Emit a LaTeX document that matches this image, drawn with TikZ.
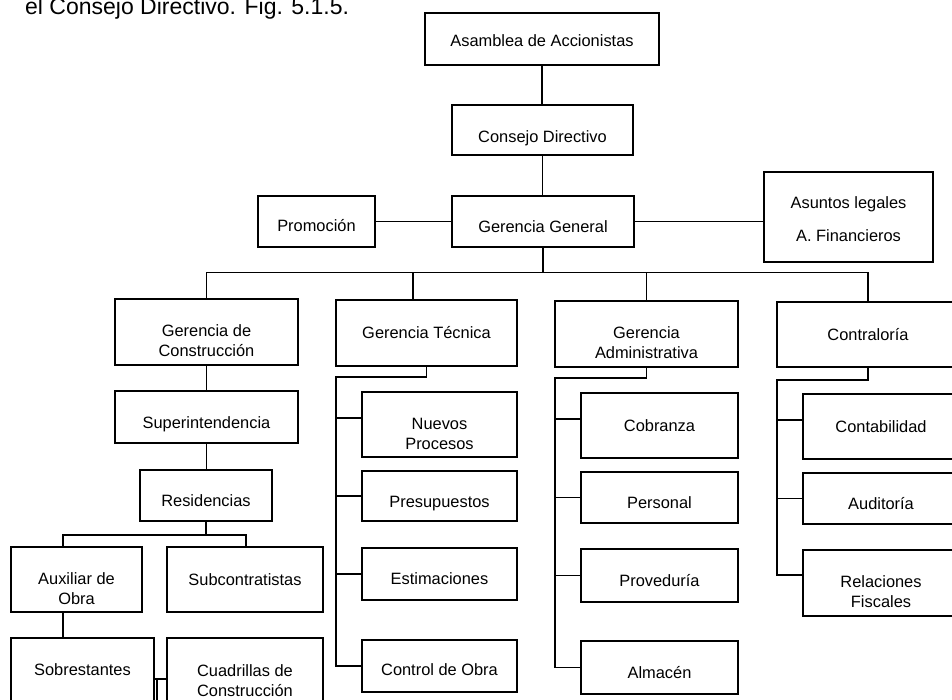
\documentclass[tikz,border=0pt]{standalone}
\usepackage{fontspec}
\setmainfont{Liberation Sans}
\begin{document}
\begin{tikzpicture}[x=1pt,y=-1pt,
  box/.style={draw, line width=1.3pt, fill=white, inner sep=0pt},
  txt/.style={font=\fontsize{16.4}{20}\selectfont, align=center, inner sep=0pt},
  link/.style={line width=1.3pt},
]
\useasboundingbox (0,0) rectangle (952,700);
\clip (0,0) rectangle (952,700);

% caption line above the chart
\node[anchor=base west, font=\fontsize{23}{27}\selectfont, inner sep=0pt] (title) at (25,14.5) {el Consejo Directivo. Fig. 5.1.5.};

% top levels
\node[box,minimum width=234pt,minimum height=52pt,label={[txt,yshift=-2pt]center:Asamblea de Accionistas}] (asamblea) at (542,39) {};
\node[box,minimum width=181pt,minimum height=50pt,label={[txt,yshift=-8pt]center:Consejo Directivo}] (consejo) at (542.5,130) {};
\node[box,minimum width=117pt,minimum height=51pt,label={[txt,yshift=-4pt]center:Promoción}] (promocion) at (316.5,221.5) {};
\node[box,minimum width=182pt,minimum height=51pt,label={[txt,yshift=-5pt]center:Gerencia General}] (gg) at (543,221.5) {};
\node[box,minimum width=169pt,minimum height=90pt,label={[txt,font=\fontsize{16.4}{33}\selectfont,yshift=-2pt]center:Asuntos legales\\A. Financieros}] (asuntos) at (848.5,217) {};

% managements
\node[box,minimum width=183pt,minimum height=66pt,label={[txt,yshift=-9pt]center:Gerencia de\\Construcción}] (gdc) at (206.5,332) {};
\node[box,minimum width=181pt,minimum height=66pt,label={[txt]center:Gerencia Técnica}] (gtec) at (426.5,333) {};
\node[box,minimum width=183pt,minimum height=66pt,label={[txt,yshift=-9pt]center:Gerencia\\Administrativa}] (gadm) at (646.5,334) {};
\node[box,minimum width=182pt,minimum height=65pt,label={[txt]center:Contraloría}] (contra) at (868,334.5) {};

% construction branch
\node[box,minimum width=183pt,minimum height=52pt,label={[txt,yshift=-7pt]center:Superintendencia}] (super) at (206.5,417) {};
\node[box,minimum width=132pt,minimum height=51pt,label={[txt,yshift=-5pt]center:Residencias}] (resid) at (206,495.5) {};
\node[box,minimum width=131pt,minimum height=65pt,label={[txt,yshift=-9pt]center:Auxiliar de\\Obra}] (aux) at (76.5,579.5) {};
\node[box,minimum width=156pt,minimum height=65pt,label={[txt]center:Subcontratistas}] (subc) at (245,579.5) {};
\node[box,minimum width=143pt,minimum height=74pt,label={[txt,yshift=5pt]center:Sobrestantes}] (sobre) at (82.5,675) {};
\node[box,minimum width=156pt,minimum height=74pt,label={[txt,yshift=-6pt]center:Cuadrillas de\\Construcción}] (cuad) at (245,675) {};

% technical branch
\node[box,minimum width=155pt,minimum height=65pt,label={[txt,yshift=-9pt]center:Nuevos\\Procesos}] (nuevos) at (439.5,424.5) {};
\node[box,minimum width=155pt,minimum height=50pt,label={[txt,yshift=-8pt]center:Presupuestos}] (presu) at (439.5,496) {};
\node[box,minimum width=155pt,minimum height=52pt,label={[txt,yshift=-5pt]center:Estimaciones}] (estim) at (439.5,574) {};
\node[box,minimum width=155pt,minimum height=52pt,label={[txt,yshift=-4pt]center:Control de Obra}] (control) at (439.5,666) {};

% administrative branch
\node[box,minimum width=157pt,minimum height=65pt,label={[txt]center:Cobranza}] (cobr) at (659.5,425.5) {};
\node[box,minimum width=157pt,minimum height=51pt,label={[txt,yshift=-5pt]center:Personal}] (pers) at (659.5,497.5) {};
\node[box,minimum width=157pt,minimum height=53pt,label={[txt,yshift=-5pt]center:Proveduría}] (prov) at (659.5,575.5) {};
\node[box,minimum width=157pt,minimum height=53pt,label={[txt,yshift=-5pt]center:Almacén}] (alm) at (659.5,667.5) {};

% comptroller branch
\node[box,minimum width=156pt,minimum height=65pt,label={[txt]center:Contabilidad}] (conta) at (881,426.5) {};
\node[box,minimum width=156pt,minimum height=51pt,label={[txt,yshift=-5pt]center:Auditoría}] (audi) at (881,498.5) {};
\node[box,minimum width=156pt,minimum height=66pt,label={[txt,yshift=-9pt]center:Relaciones\\Fiscales}] (rela) at (881,583) {};

% upper connectors
\draw[link] (asamblea.south) -- (asamblea.south |- consejo.north);
\draw[link] (consejo.south) -- (consejo.south |- gg.north);
\draw[link] (promocion.east) -- (promocion.east -| gg.west);
\draw[link] (gg.east) -- (gg.east -| asuntos.west);

% main bus
\coordinate (busL) at (206.5,272.5);
\coordinate (busR) at (868,272.5);
\coordinate (gtecTop) at (413,300);
\draw[link] (gdc.north) -- (busL) -- (busR) -- (contra.north);
\draw[link] (gg.south) -- (gg.south |- busL);
\draw[link] (gtecTop) -- (gtecTop |- busL);
\draw[link] (gadm.north) -- (gadm.north |- busL);

% construction connectors
\coordinate (rbL) at (63,535);
\coordinate (rbR) at (246,535);
\coordinate (sj) at (157,679);
\coordinate (sjEnd) at (157,712);
\draw[link] (gdc.south) -- (gdc.south |- super.north);
\draw[link] (super.south) -- (super.south |- resid.north);
\draw[link] (resid.south) -- (resid.south |- rbL);
\draw[link] (rbL |- aux.north) -- (rbL) -- (rbR) -- (rbR |- subc.north);
\draw[link] (rbL |- aux.south) -- (rbL |- sobre.north);
\draw[link] (sobre.east |- sj) -- (cuad.west |- sj);
\draw[link] (sj) -- (sjEnd);

% technical connectors
\coordinate (tj) at (426.5,377);
\coordinate (ts) at (336,377);
\coordinate (tn) at (336,418);
\draw[link] (gtec.south) -- (tj) -- (ts) -- (ts |- control.west) -- (control.west);
\draw[link] (tn) -- (tn -| nuevos.west);
\draw[link] (ts |- presu.west) -- (presu.west);
\draw[link] (ts |- estim.west) -- (estim.west);

% administrative connectors
\coordinate (aj) at (646.5,378);
\coordinate (as) at (555,378);
\coordinate (an) at (555,419);
\draw[link] (gadm.south) -- (aj) -- (as) -- (as |- alm.west) -- (alm.west);
\draw[link] (an) -- (an -| cobr.west);
\draw[link] (as |- pers.west) -- (pers.west);
\draw[link] (as |- prov.west) -- (prov.west);

% comptroller connectors
\coordinate (cj) at (868,380);
\coordinate (cs) at (777,380);
\coordinate (cn) at (777,420);
\coordinate (cr) at (777,575);
\draw[link] (contra.south) -- (cj) -- (cs) -- (cr) -- (cr -| rela.west);
\draw[link] (cn) -- (cn -| conta.west);
\draw[link] (cs |- audi.west) -- (audi.west);
\end{tikzpicture}
\end{document}
